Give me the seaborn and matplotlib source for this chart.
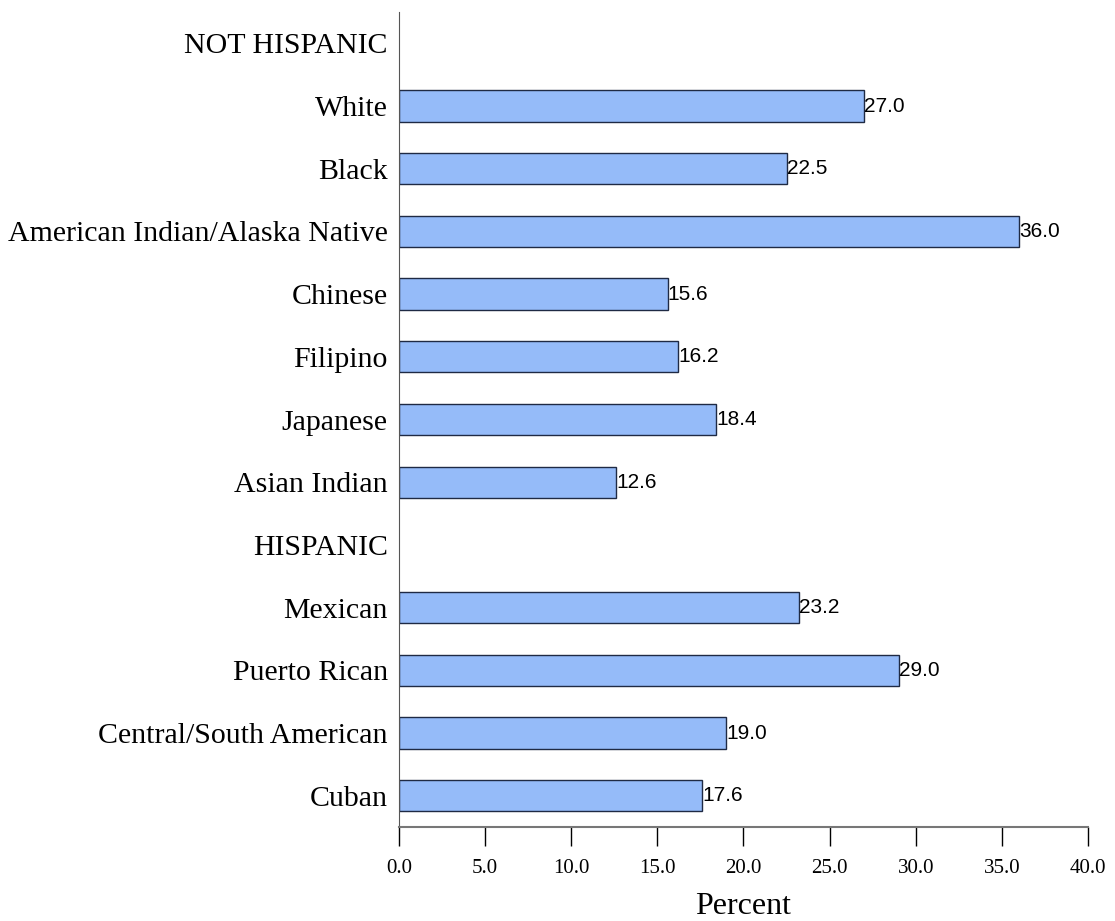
import pandas as pd
import matplotlib.pyplot as plt
import seaborn as sns

# categories in display order, headers have no bar
order = ['NOT HISPANIC', 'White', 'Black', 'American Indian/Alaska Native',
         'Chinese', 'Filipino', 'Japanese', 'Asian Indian',
         'HISPANIC', 'Mexican', 'Puerto Rican', 'Central/South American', 'Cuban']
groups = ['White', 'Black', 'American Indian/Alaska Native', 'Chinese',
          'Filipino', 'Japanese', 'Asian Indian',
          'Mexican', 'Puerto Rican', 'Central/South American', 'Cuban']
percent = [27.0, 22.5, 36.0, 15.6, 16.2, 18.4, 12.6, 23.2, 29.0, 19.0, 17.6]
xticks = [0, 5, 10, 15, 20, 25, 30, 35, 40]

df = pd.DataFrame({'group': groups, 'percent': percent})

sns.set_style('white')
plt.rcParams['font.family'] = ['Liberation Serif', 'DejaVu Serif']
plt.rcParams['text.color'] = 'black'
plt.rcParams['xtick.color'] = 'black'
plt.rcParams['ytick.color'] = 'black'
plt.rcParams['axes.labelcolor'] = 'black'

fig = plt.figure(figsize=(11.15, 9.21), dpi=100)
ax = fig.add_axes([0.3578, 0.102, 0.618, 0.885])

sns.barplot(data=df, y='group', x='percent', order=order, orient='h',
            color='#95bbf9', saturation=1, width=0.5,
            edgecolor='#1f2a44', linewidth=1, ax=ax)

for c in ax.containers:
    ax.bar_label(c, fmt='%.1f', padding=0, fontsize=15,
                 family='Liberation Sans', color='black')

ax.set_xlim(0, 40)
ax.set_ylim(12.5, -0.5)
ax.set_xticks(xticks)
ax.set_xticklabels([f'{t:.1f}' for t in xticks], fontsize=15)
ax.tick_params(axis='x', direction='out', length=14, width=1,
               color='black', pad=9, bottom=True)
ax.tick_params(axis='y', length=0, labelsize=21.5, pad=8)
ax.set_ylabel('')
ax.set_xlabel('Percent', fontsize=23, labelpad=10)

sns.despine(ax=ax, top=True, right=True)
ax.spines['left'].set_color('#555555')
ax.spines['bottom'].set_color('#777777')
ax.spines['bottom'].set_linewidth(1.5)

fig.savefig('out.png', dpi=100)
